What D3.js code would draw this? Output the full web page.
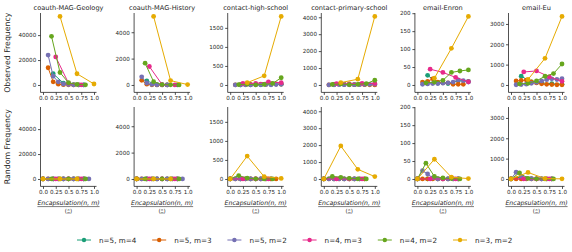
<!DOCTYPE html>
<html>
<head>
<meta charset="utf-8">
<script src="https://cdn.jsdelivr.net/npm/d3@7"></script>
<style>
  body { margin: 0; background: #fff; }
  svg { display: block; font-family: "DejaVu Sans", sans-serif; }
</style>
</head>
<body>
<svg id="chart"></svg>
<script>
// datasets (columns) and hypergraph motif series
const datasets = ["coauth-MAG-Geology", "coauth-MAG-History", "contact-high-school",
                  "contact-primary-school", "email-Enron", "email-Eu"];
const seriesNames = ["n=5, m=4", "n=5, m=3", "n=5, m=2", "n=4, m=3", "n=4, m=2", "n=3, m=2"];
const seriesColors = ["#1b9e77", "#d95f02", "#7570b3", "#e7298a", "#66a61e", "#e6ab02"];

// encapsulation levels k / C(n,m) for each series
const xLevels = [
  [0, 0.2, 0.4, 0.6, 0.8, 1],
  [0, 0.1, 0.2, 0.3, 0.4, 0.5, 0.6, 0.7, 0.8, 0.9, 1],
  [0, 0.1, 0.2, 0.3, 0.4, 0.5, 0.6, 0.7, 0.8, 0.9, 1],
  [0, 0.25, 0.5, 0.75, 1],
  [0, 1/6, 2/6, 3/6, 4/6, 5/6, 1],
  [0, 1/3, 2/3, 1]
];

// observed frequency, one array per series (null = not drawn)
const obsGeology = [
  [null, 9000, 1500, 300, 50, null],
  [null, 13800, 2500, 600, 200, 80, 30, 10, null, null, null],
  [null, 24000, 7000, 2500, 800, 300, 100, 30, 10, null, null],
  [null, 22500, 1500, 100, null],
  [null, 39000, 10000, 1800, 400, 100, null],
  [null, 55000, 9000, 800]
];
const obsHistory = [
  [null, 300, 30, 5, 2, null],
  [null, 350, 60, 15, 5, 2, 1, null, null, null, null],
  [null, 620, 150, 40, 10, 5, 2, null, null, null, null],
  [null, 1400, 30, 5, null],
  [null, 1650, 250, 30, 10, 5, null],
  [null, 5200, 330, 30]
];
const obsHighSchool = [
  [null, 2, 5, 3, 10, 20],
  [null, 5, 10, 8, 15, 12, 20, 15, 30, 25, 20],
  [null, 1, 2, 3, 5, 4, 8, 10, 6, 12, 20],
  [null, 40, 40, 80, 60],
  [null, 10, 20, 5, 15, 40, 190],
  [null, 60, 240, 1800]
];
const obsPrimarySchool = [
  [null, 20, 30, 20, 40, 60],
  [null, 10, 30, 50, 40, 30, 20, 30, 20, 10, 5],
  [null, 5, 10, 15, 20, 10, 15, 20, 30, 40, 50],
  [null, 80, 60, 100, 90],
  [null, 30, 60, 20, 40, 80, 280],
  [null, 140, 340, 4050]
];
const obsEnron = [
  [null, 27, 5, 4, 12, 10],
  [null, 8, 10, 17, 8, 6, 6, 2, 2, 2, null],
  [null, 2, 3, 4, 4, 5, 6, 8, 14, 12, 8],
  [null, 44, 35, 21, 9],
  [null, 6, 8, 13, 35, 39, 42],
  [null, 19, 102, 191]
];
const obsEu = [
  [null, 430, 150, 100, 60, 40],
  [null, 200, 220, 240, 150, 100, 60, 30, 20, 10, 5],
  [null, 10, 20, 40, 80, 130, 200, 260, 300, 270, 310],
  [null, 640, 690, 400, 180],
  [null, 50, 80, 200, 430, 560, 1030],
  [null, 270, 1310, 3370]
];

// random-model frequency
const rndGeology = [
  [0, 0, 0, 0, 0, null],
  [0, 0, 0, 0, 0, 0, 0, 0, 0, null, null],
  [0, 0, 0, 0, 0, 0, 0, 0, 0, 0, null],
  [0, 0, 0, 0, null],
  [0, 0, 0, 0, 0, 0, null],
  [0, 0, 0, null]
];
const rndHistory = [
  [0, 0, 0, 0, 0, null],
  [0, 0, 0, 0, 0, 0, 0, 0, 0, null, null],
  [0, 0, 0, 0, 0, 0, 0, 0, 0, 0, null],
  [0, 0, 0, 0, null],
  [0, 0, 0, 0, 0, 0, null],
  [0, 0, 0, null]
];
const rndHighSchool = [
  [0, 0, 0, 0, 0, null],
  [0, 0, 0, 0, 0, 0, 0, 0, 0, 0, null],
  [0, 0, 0, 0, 0, 0, 0, 0, null, null, null],
  [0, 0, 0, 0, null],
  [0, 90, 20, 5, 2, 0, null],
  [0, 600, 60, 15]
];
const rndPrimarySchool = [
  [0, 0, 0, 0, 0, null],
  [0, 0, 0, 0, 0, 0, 0, 0, 0, null, null],
  [0, 0, 0, 0, 0, 0, 0, 0, null, null, null],
  [0, 0, 0, 0, null],
  [0, 150, 100, 40, 10, 5, null],
  [0, 1950, 570, 140]
];
const rndEnron = [
  [0, 0, 0, 0, 0, null],
  [0, 0, 0, 0, 0, 0, 0, 0, 0, null, null],
  [0, 23, 14, 3, 0, 0, 0, 0, 0, null, null],
  [0, 0, 0, 0, null],
  [0, 44, 7, 3, 1, 0, null],
  [0, 55, 5, 1]
];
const rndEu = [
  [0, 100, 20, 5, 0, null],
  [0, 0, 0, 0, 0, 0, 0, 0, 0, null, null],
  [0, 330, 130, 30, 5, 0, 0, 0, 0, null, null],
  [0, 0, 0, 0, null],
  [0, 300, 30, 5, 0, 0, null],
  [0, 320, 20, 5]
];

const observed = [obsGeology, obsHistory, obsHighSchool, obsPrimarySchool, obsEnron, obsEu];
const random = [rndGeology, rndHistory, rndHighSchool, rndPrimarySchool, rndEnron, rndEu];

const yTicks = [
  [0, 20000, 40000],
  [0, 2000, 4000],
  [0, 500, 1000, 1500],
  [0, 1000, 2000, 3000, 4000],
  [0, 50, 100, 150, 200],
  [0, 1000, 2000, 3000]
];
const xTicks = [0, 0.25, 0.5, 0.75, 1];
const xTickLabels = ["0.0", "0.25", "0.5", "0.75", "1.0"];
const rowLabels = ["Observed Frequency", "Random Frequency"];

const width = 572, height = 252;
const ink = "#262626";

let svg = d3.select("#chart")
  .attr("viewBox", [0, 0, width, height])
  .attr("width", width)
  .attr("height", height);

// panel geometry
const rows = [{top: 13, bottom: 88.4}, {top: 107, bottom: 182.4}];
const colLeft = (i) => 43 + 93.6 * i;
const unitW = 51;

datasets.forEach((name, c) => {
  let x = d3.scaleLinear().domain([0, 1]).range([colLeft(c), colLeft(c) + unitW]);

  // shared y per column
  let maxV = d3.max([observed[c], random[c]].flat(2).filter(v => v != null));

  rows.forEach((row, r) => {
    let y = d3.scaleLinear().domain([-0.05 * maxV, 1.05 * maxV]).range([row.bottom, row.top]);
    let g = svg.append("g");
    let spineX = x(0) - 2.5, spineY = row.bottom + 4;

    // y axis
    let yAxis = d3.axisLeft(y).tickValues(yTicks[c]).tickSize(2.5).tickPadding(1.8).tickFormat(d3.format("d"));
    let ya = g.append("g").attr("transform", "translate(" + spineX + ",0)").call(yAxis);
    ya.select(".domain").attr("d", "M0," + row.top + "V" + spineY);

    // x axis
    let xAxis = d3.axisBottom(x).tickValues(xTicks).tickSize(2.5).tickPadding(1.5)
      .tickFormat((d, i) => xTickLabels[i]);
    let xa = g.append("g").attr("transform", "translate(0," + spineY + ")").call(xAxis);
    xa.select(".domain").attr("d", "M" + spineX + ",0H" + (x(1) + 2.5));

    g.selectAll(".domain").attr("stroke", ink).attr("stroke-width", 0.8);
    g.selectAll(".tick line").attr("stroke", ink).attr("stroke-width", 0.8);
    g.selectAll(".tick text").attr("fill", ink).style("font-size", "5.6px").style("font-family", "DejaVu Sans");

    // series
    let data = r == 0 ? observed[c] : random[c];
    seriesNames.forEach((s, k) => {
      let pts = xLevels[k].map((xv, j) => ({x: xv, y: data[k][j]})).filter(p => p.y != null);
      let line = d3.line().x(p => x(p.x)).y(p => y(p.y));
      g.append("path").datum(pts)
        .attr("d", line)
        .attr("fill", "none")
        .attr("stroke", seriesColors[k])
        .attr("stroke-width", 1);
      g.selectAll(null).data(pts).join("circle")
        .attr("cx", p => x(p.x))
        .attr("cy", p => y(p.y))
        .attr("r", 2.4)
        .attr("fill", seriesColors[k]);
    });

    if (r == 0) {
      g.append("text")
        .attr("x", x(0.5)).attr("y", 9.5)
        .attr("text-anchor", "middle")
        .attr("fill", ink)
        .style("font-size", "6.6px")
        .text(name);
    } else {
      // x label: Encapsulation(n, m) over binomial (n m)
      let cx = x(0.5);
      let num = g.append("text")
        .attr("x", cx).attr("y", 204.5)
        .attr("text-anchor", "middle")
        .attr("fill", ink)
        .style("font-size", "6.2px")
        .style("font-style", "italic")
        .text("Encapsulation(n, m)");
      let bw = num.node().getComputedTextLength();
      g.append("line")
        .attr("x1", cx - bw / 2).attr("x2", cx + bw / 2)
        .attr("y1", 206.6).attr("y2", 206.6)
        .attr("stroke", ink).attr("stroke-width", 0.6);
      g.append("text").attr("x", cx - 2.6).attr("y", 212.8).attr("text-anchor", "middle")
        .attr("fill", ink).style("font-size", "5.5px").text("(");
      g.append("text").attr("x", cx + 2.6).attr("y", 212.8).attr("text-anchor", "middle")
        .attr("fill", ink).style("font-size", "5.5px").text(")");
      g.append("text").attr("x", cx).attr("y", 210.6).attr("text-anchor", "middle")
        .attr("fill", ink).style("font-size", "3.2px").style("font-style", "italic").text("n");
      g.append("text").attr("x", cx).attr("y", 213.6).attr("text-anchor", "middle")
        .attr("fill", ink).style("font-size", "3.2px").style("font-style", "italic").text("m");
    }
  });
});

// row labels
rowLabels.forEach((t, r) => {
  let cy = (rows[r].top + rows[r].bottom + 4) / 2;
  svg.append("text")
    .attr("transform", "translate(9.5," + cy + ") rotate(-90)")
    .attr("text-anchor", "middle")
    .attr("fill", ink)
    .style("font-size", "7.8px")
    .text(t);
});

// legend
let legend = svg.append("g");
seriesNames.forEach((s, k) => {
  let lx = 77 + 75.2 * k, ly = 240;
  legend.append("line")
    .attr("x1", lx).attr("x2", lx + 14)
    .attr("y1", ly).attr("y2", ly)
    .attr("stroke", seriesColors[k]).attr("stroke-width", 1);
  legend.append("circle")
    .attr("cx", lx + 7).attr("cy", ly).attr("r", 2.2)
    .attr("fill", seriesColors[k]);
  legend.append("text")
    .attr("x", lx + 22).attr("y", ly + 2.5)
    .attr("fill", ink)
    .style("font-size", "7.2px")
    .text(s);
});
</script>
</body>
</html>
